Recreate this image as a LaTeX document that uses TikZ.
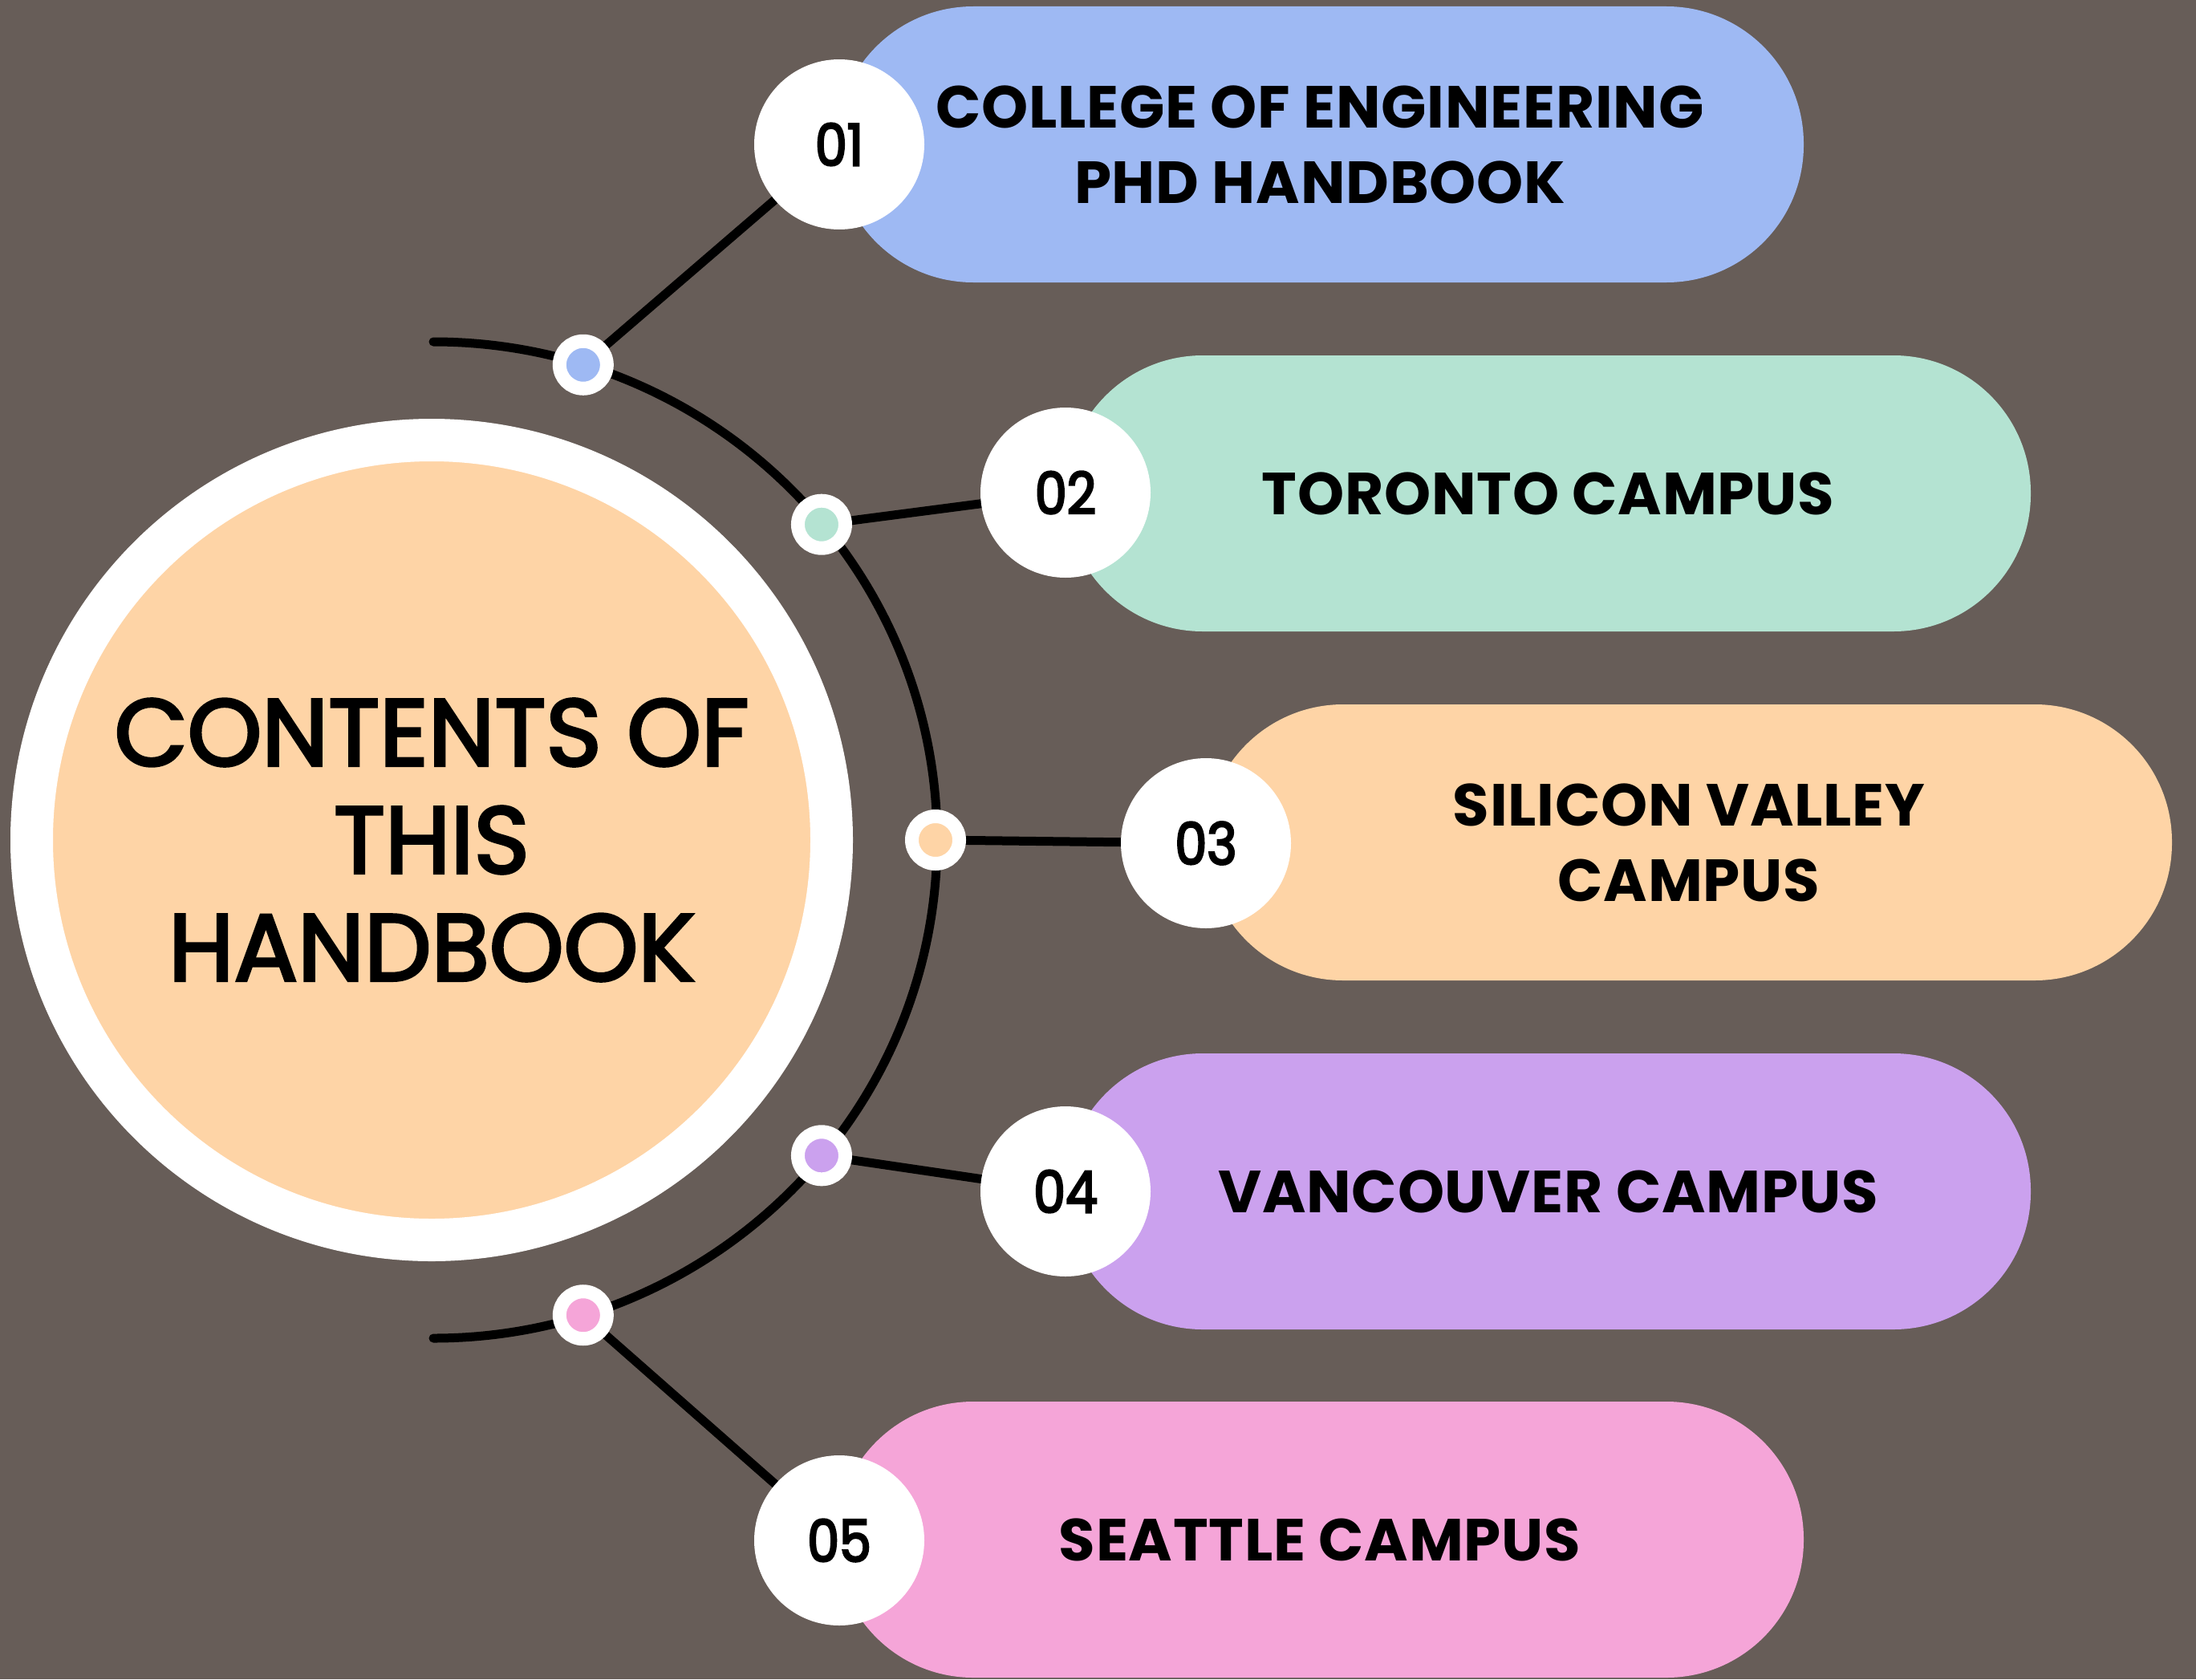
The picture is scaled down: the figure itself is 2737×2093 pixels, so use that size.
\documentclass[tikz,border=0pt]{standalone}
\usepackage{fontspec}
\setmainfont{Poppins}
\newfontfamily\pillfont{Poppins}[LetterSpace=1]
\newfontfamily\numfont{Poppins}[FakeStretch=0.88, FakeBold=3.5]
\newfontfamily\titlefont{Poppins}[FakeBold=3]
\usetikzlibrary{calc}
\definecolor{bgc}{HTML}{675D58}
\definecolor{cblue}{HTML}{9EB9F3}
\definecolor{cgreen}{HTML}{B4E3D2}
\definecolor{cpeach}{HTML}{FED4A6}
\definecolor{cpurple}{HTML}{CBA1EE}
\definecolor{cpink}{HTML}{F5A5D8}
\pgfdeclarelayer{bgl}
\pgfdeclarelayer{lines}
\pgfsetlayers{bgl,lines,main}
\tikzset{
  conn/.style={line width=11pt, black, line cap=round},
  pill/.style={rectangle, rounded corners=171pt, minimum height=344pt, inner sep=0pt,
    align=center, font=\pillfont\bfseries\fontsize{74}{94}\selectfont},
  numc/.style={circle, fill=white, minimum size=212pt, inner sep=0pt,
    font=\numfont\fontsize{72}{72}\selectfont},
  marker/.style={circle, draw=white, line width=17pt, minimum size=59pt, inner sep=0pt},
}
\begin{document}
\begin{tikzpicture}[x=1pt,y=-1pt]
\useasboundingbox (0,0) rectangle (2737,2093);
\begin{pgfonlayer}{bgl}
\fill[bgc] (0,0) rectangle (2737,2093);
\end{pgfonlayer}

% central circle
\node[circle, fill=cpeach, draw=white, line width=53pt, minimum size=997pt, inner sep=0pt,
  align=center, font=\titlefont\fontsize{118}{134}\selectfont] (hub) at (538,1047)
  {CONTENTS OF\\THIS\\HANDBOOK};

% arc start
\coordinate (arcs) at (540,426);

% markers on the arc
\node[marker, fill=cblue]   (m1) at ($(hub.center)+({628*cos(72.5)},{-621*sin(72.5)})$) {};
\node[marker, fill=cgreen]  (m2) at ($(hub.center)+({628*cos(39.3)},{-621*sin(39.3)})$) {};
\node[marker, fill=cpeach]  (m3) at ($(hub.center)+(628,0)$) {};
\node[marker, fill=cpurple] (m4) at ($(hub.center)+({628*cos(39.3)},{621*sin(39.3)})$) {};
\node[marker, fill=cpink]   (m5) at ($(hub.center)+({628*cos(72.5)},{621*sin(72.5)})$) {};

% pills
\node[pill, fill=cblue,   minimum width=1206pt] (p1) at (1645,180)    {COLLEGE OF ENGINEERING\\PHD HANDBOOK};
\node[pill, fill=cgreen,  minimum width=1203pt] (p2) at (1929.5,615)  {TORONTO CAMPUS};
\node[pill, fill=cpeach,  minimum width=1204pt] (p3) at (2105,1050)   {SILICON VALLEY\\CAMPUS};
\node[pill, fill=cpurple, minimum width=1203pt] (p4) at (1929.5,1485) {VANCOUVER CAMPUS};
\node[pill, fill=cpink,   minimum width=1206pt] (p5) at (1645,1919)   {SEATTLE CAMPUS};

% number circles
\node[numc] (n1) at (1046,180)  {01};
\node[numc] (n2) at (1328,614)  {02};
\node[numc] (n3) at (1503,1051) {03};
\node[numc] (n4) at (1328,1485) {04};
\node[numc] (n5) at (1046,1920) {05};

\begin{pgfonlayer}{lines}
\draw[conn] (arcs) arc[start angle=-90, end angle=90, x radius=628, y radius=621];
\draw[conn] (m1.center) -- (n1.center);
\draw[conn] (m2.center) -- (n2.center);
\draw[conn] (m3.center) -- (n3.center);
\draw[conn] (m4.center) -- (n4.center);
\draw[conn] (m5.center) -- (n5.center);
\end{pgfonlayer}
\end{tikzpicture}
\end{document}
